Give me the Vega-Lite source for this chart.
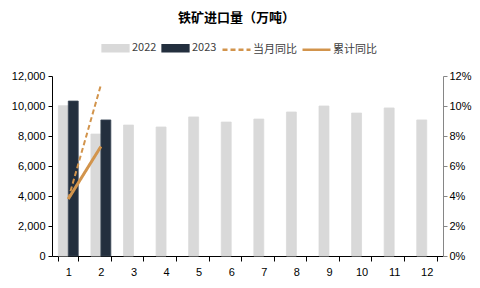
{
  "$schema": "https://vega.github.io/schema/vega-lite/v6.json",
  "autosize": {"type": "none"},
  "width": 391,
  "height": 180,
  "padding": {"left": 52, "top": 76, "right": 37, "bottom": 32},
  "background": "white",
  "title": {"text": "铁矿进口量（万吨）", "font": "Noto Sans CJK SC", "fontSize": 13, "fontWeight": "bold", "color": "#000000", "anchor": "middle", "dx": -11, "offset": 8},
  "config": {"view": {"stroke": null}, "font": "Liberation Sans"},
  "datasets": {
    "bars": [
      {"month": "1", "series": "2022", "value": 10020},
      {"month": "2", "series": "2022", "value": 8130},
      {"month": "3", "series": "2022", "value": 8730},
      {"month": "4", "series": "2022", "value": 8600},
      {"month": "5", "series": "2022", "value": 9270},
      {"month": "6", "series": "2022", "value": 8930},
      {"month": "7", "series": "2022", "value": 9130},
      {"month": "8", "series": "2022", "value": 9600},
      {"month": "9", "series": "2022", "value": 10000},
      {"month": "10", "series": "2022", "value": 9530},
      {"month": "11", "series": "2022", "value": 9870},
      {"month": "12", "series": "2022", "value": 9070},
      {"month": "1", "series": "2023", "value": 10330},
      {"month": "2", "series": "2023", "value": 9070}
    ],
    "lines": [
      {"month": "1", "series": "当月同比", "pct": 0.038},
      {"month": "2", "series": "当月同比", "pct": 0.114},
      {"month": "1", "series": "累计同比", "pct": 0.038},
      {"month": "2", "series": "累计同比", "pct": 0.073}
    ]
  },
  "layer": [
    {
      "data": {"name": "bars"},
      "mark": {"type": "bar", "strokeWidth": 0.8},
      "encoding": {
        "x": {"field": "month", "type": "ordinal", "sort": ["1","2","3","4","5","6","7","8","9","10","11","12"],
              "scale": {"paddingInner": 0.39, "paddingOuter": 0.195},
              "axis": {"title": null, "labelAngle": 0, "labelFont": "Liberation Sans", "labelFontSize": 11, "labelColor": "#000000", "domainColor": "#000000", "tickColor": "#000000", "tickBand": "extent", "tickSize": 5, "labelPadding": 5}},
        "xOffset": {"field": "series", "type": "nominal", "scale": {"domain": ["2022", "2023"]}},
        "y": {"field": "value", "type": "quantitative", "scale": {"domain": [0, 12000]},
              "axis": {"title": null, "values": [0,2000,4000,6000,8000,10000,12000], "format": ",d", "grid": false, "labelFont": "Liberation Sans", "labelFontSize": 11, "labelColor": "#000000", "domainColor": "#000000", "tickColor": "#000000", "tickSize": 4, "labelPadding": 3}},
        "color": {"field": "series", "type": "nominal",
                  "scale": {"domain": ["2022", "2023", "当月同比", "累计同比"], "range": ["#d9d9d9", "#232f3e", "#d2944c", "#d2944c"]},
                  "legend": {"orient": "none", "legendX": 48, "legendY": -43.5, "direction": "horizontal", "title": null, "symbolSize": 784, "symbolStrokeWidth": 2.5, "labelFont": "Noto Sans CJK SC", "labelFontSize": 11, "labelColor": "#404040", "labelOffset": 1, "columnPadding": 0,
                    "encode": {"symbols": {"update": {
                      "shape": {"signal": "indexof(['2022','2023'], datum.value) >= 0 ? 'M-0.92,-0.22H0.92V0.22H-0.92Z' : 'stroke'"},
                      "fill": {"signal": "datum.value === '2022' ? '#d9d9d9' : datum.value === '2023' ? '#232f3e' : 'transparent'"},
                      "stroke": {"signal": "datum.value === '2022' ? '#d9d9d9' : datum.value === '2023' ? '#232f3e' : '#d2944c'"},
                      "strokeDash": {"signal": "datum.value === '当月同比' ? [5, 3] : []"},
                      "opacity": {"value": 1}
                    }}}}},
        "stroke": {"field": "series", "type": "nominal", "scale": {"domain": ["2022", "2023"], "range": ["#d9d9d9", "#3a4656"]}, "legend": null}
      }
    },
    {
      "data": {"name": "lines"},
      "mark": {"type": "line"},
      "encoding": {
        "x": {"field": "month", "type": "ordinal", "sort": ["1","2","3","4","5","6","7","8","9","10","11","12"]},
        "y": {"field": "pct", "type": "quantitative", "scale": {"domain": [0, 0.12]},
              "axis": {"title": null, "orient": "right", "values": [0,0.02,0.04,0.06,0.08,0.1,0.12], "format": ".0%", "grid": false, "labelFont": "Liberation Sans", "labelFontSize": 11, "labelColor": "#000000", "domainColor": "#868686", "tickColor": "#868686", "tickSize": 4, "labelPadding": 2}},
        "color": {"field": "series", "type": "nominal"},
        "strokeDash": {"field": "series", "type": "nominal", "scale": {"domain": ["当月同比", "累计同比"], "range": [[5, 3], [1, 0]]}, "legend": null},
        "strokeWidth": {"field": "series", "type": "nominal", "scale": {"domain": ["当月同比", "累计同比"], "range": [2, 3]}, "legend": null}
      }
    }
  ],
  "resolve": {"scale": {"y": "independent", "stroke": "independent"}}
}
